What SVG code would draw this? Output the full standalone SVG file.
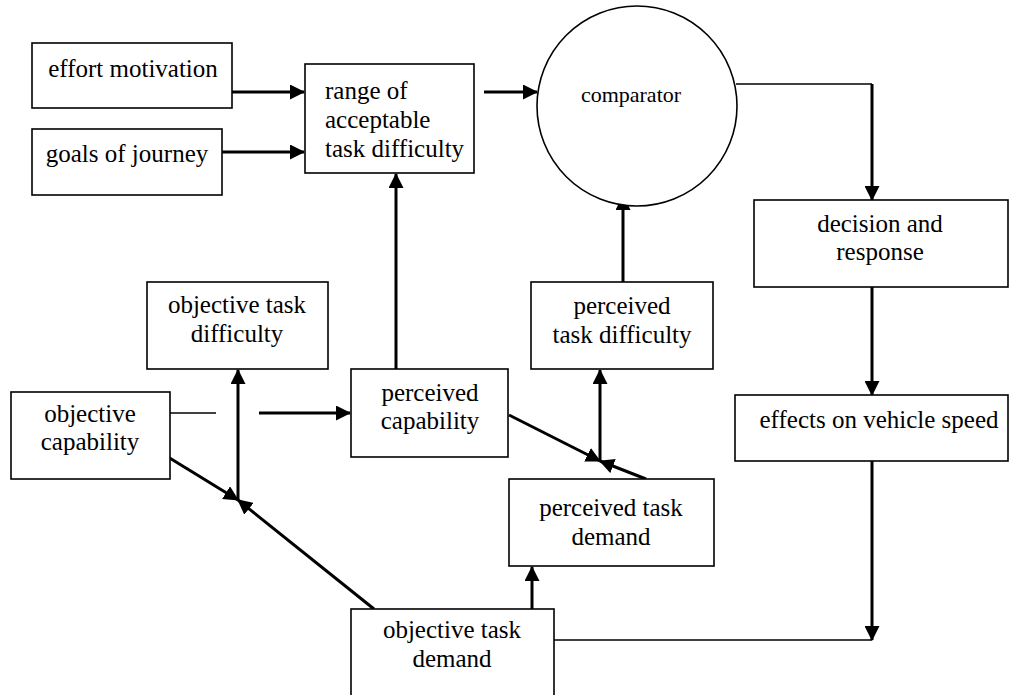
<svg xmlns="http://www.w3.org/2000/svg" width="1015" height="695" viewBox="0 0 1015 695">
<style>
.box{fill:#fff;stroke:#000;stroke-width:1.6}
.c{text-anchor:middle}
.thick{stroke:#000;stroke-width:3;fill:none}
.thin{stroke:#000;stroke-width:1.4;fill:none}
</style>
<defs>
<marker id="ah" markerUnits="userSpaceOnUse" markerWidth="15" markerHeight="15" viewBox="0 0 15 15" refX="14" refY="7.5" orient="auto">
<path d="M0,0 L15,7.5 L0,15 Z" fill="#000"/>
</marker>
</defs>
<rect width="1015" height="695" fill="#fff"/>
<g id="connectors">
<line class="thick" x1="232" y1="92" x2="304" y2="92" marker-end="url(#ah)"/>
<line class="thick" x1="222" y1="152" x2="304" y2="152" marker-end="url(#ah)"/>
<line class="thick" x1="484" y1="92" x2="537" y2="92" marker-end="url(#ah)"/>
<line class="thin" x1="736" y1="84" x2="872" y2="84"/>
<line class="thick" x1="872" y1="84" x2="872" y2="200" marker-end="url(#ah)"/>
<line class="thick" x1="872" y1="287" x2="872" y2="395" marker-end="url(#ah)"/>
<line class="thick" x1="872" y1="461" x2="872" y2="640" marker-end="url(#ah)"/>
<line class="thin" x1="554" y1="640" x2="872" y2="640"/>
<line class="thick" x1="396" y1="369" x2="396" y2="174" marker-end="url(#ah)"/>
<line class="thick" x1="623" y1="282" x2="623" y2="196" marker-end="url(#ah)"/>
<line class="thick" x1="600" y1="461" x2="600" y2="370" marker-end="url(#ah)"/>
<line class="thick" x1="509" y1="415" x2="600" y2="461" marker-end="url(#ah)"/>
<line class="thick" x1="646" y1="479" x2="600" y2="461" marker-end="url(#ah)"/>
<line class="thick" x1="238" y1="500" x2="238" y2="370" marker-end="url(#ah)"/>
<line class="thick" x1="168" y1="457" x2="238" y2="500" marker-end="url(#ah)"/>
<line class="thick" x1="374" y1="609" x2="238" y2="500" marker-end="url(#ah)"/>
<line class="thin" x1="170" y1="413" x2="216" y2="413"/>
<line class="thick" x1="259" y1="413" x2="350" y2="413" marker-end="url(#ah)"/>
<line class="thick" x1="532" y1="609" x2="532" y2="567" marker-end="url(#ah)"/>
</g>
<g id="nodes" font-family="Liberation Serif, serif" font-size="25" fill="#000">
<g id="effort">
<rect class="box" x="32" y="43" width="200" height="65"/>
<text class="c" x="133" y="77">effort motivation</text>
</g>
<g id="goals">
<rect class="box" x="32" y="129" width="190" height="66"/>
<text class="c" x="127" y="162">goals of journey</text>
</g>
<g id="range">
<rect class="box" x="305" y="64" width="169" height="109"/>
<text x="325" y="99">range of</text>
<text x="325" y="128">acceptable</text>
<text x="325" y="157">task difficulty</text>
</g>
<g id="comparator">
<circle cx="637" cy="106" r="100" fill="#fff" stroke="#000" stroke-width="1.6"/>
<text class="c" x="631" y="102" font-size="22">comparator</text>
</g>
<g id="decision">
<rect class="box" x="754" y="200" width="254" height="87"/>
<text class="c" x="880" y="232">decision and</text>
<text class="c" x="880" y="260">response</text>
</g>
<g id="effects">
<rect class="box" x="735" y="395" width="273" height="66"/>
<text class="c" x="879" y="428">effects on vehicle speed</text>
</g>
<g id="obj-task-difficulty">
<rect class="box" x="147" y="282" width="181" height="87"/>
<text class="c" x="237" y="313">objective task</text>
<text class="c" x="237" y="342">difficulty</text>
</g>
<g id="obj-capability">
<rect class="box" x="11" y="392" width="159" height="87"/>
<text class="c" x="90" y="422">objective</text>
<text class="c" x="90" y="450">capability</text>
</g>
<g id="perc-capability">
<rect class="box" x="351" y="369" width="157" height="88"/>
<text class="c" x="430" y="401">perceived</text>
<text class="c" x="430" y="429">capability</text>
</g>
<g id="perc-task-difficulty">
<rect class="box" x="531" y="282" width="182" height="87"/>
<text class="c" x="622" y="314">perceived</text>
<text class="c" x="622" y="343">task difficulty</text>
</g>
<g id="perc-task-demand">
<rect class="box" x="509" y="479" width="205" height="87"/>
<text class="c" x="611" y="516">perceived task</text>
<text class="c" x="611" y="545">demand</text>
</g>
<g id="obj-task-demand">
<rect class="box" x="351" y="609" width="203" height="100"/>
<text class="c" x="452" y="638">objective task</text>
<text class="c" x="452" y="667">demand</text>
</g>
</g>
</svg>
